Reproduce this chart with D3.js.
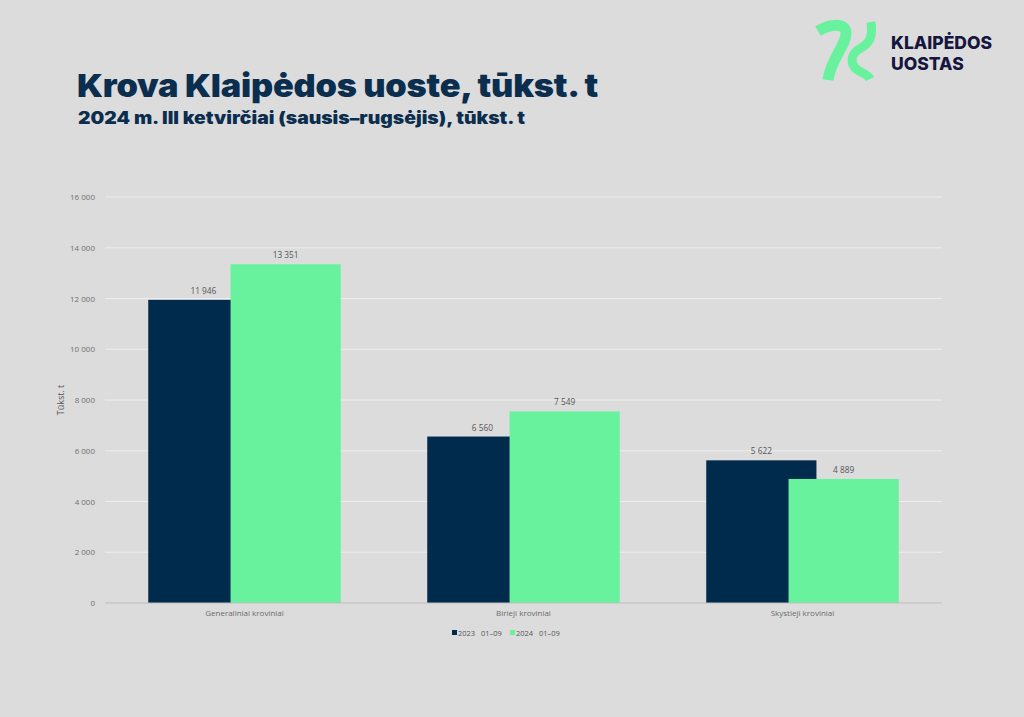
<!DOCTYPE html>
<html>
<head>
<meta charset="utf-8">
<script src="https://cdn.jsdelivr.net/npm/d3@7"></script>
<style>
  html, body { margin: 0; padding: 0; background: #dcdcdc; }
  svg { display: block; }
</style>
</head>
<body>
<script>
// chart data
var categories = ["Generaliniai kroviniai", "Birieji kroviniai", "Skystieji kroviniai"];
var seriesNames = ["2023   01–09", "2024   01–09"];
var values2023 = [11946, 6560, 5622];
var values2024 = [13351, 7549, 4889];
var yTicks = [0, 2000, 4000, 6000, 8000, 10000, 12000, 14000, 16000];

var W = 1024, H = 717;
var colors = ["#012b4d", "#68f29e"];

var svg = d3.select("body").append("svg").attr("width", W).attr("height", H);
svg.append("rect").attr("width", W).attr("height", H).attr("fill", "#dcdcdc");

// titles
svg.append("text").attr("x", 77).attr("y", 97)
    .attr("font-family", "Inter").attr("font-weight", 900).attr("font-size", 32)
    .attr("fill", "#0b2d4e").attr("letter-spacing", -0.2)
    .attr("textLength", 521).attr("lengthAdjust", "spacingAndGlyphs")
    .text("Krova Klaipėdos uoste, tūkst. t");
svg.append("text").attr("x", 78).attr("y", 124)
    .attr("font-family", "Inter").attr("font-weight", 900).attr("font-size", 17)
    .attr("fill", "#0b2d4e")
    .attr("textLength", 447).attr("lengthAdjust", "spacingAndGlyphs")
    .text("2024 m. III ketvirčiai (sausis–rugsėjis), tūkst. t");

// logo
var logo = svg.append("g");
logo.append("path")
    .attr("d", "M818,31 C830,24 846,22 846,33 C846,46 831,58 828,80")
    .attr("fill", "none").attr("stroke", "#68f29e").attr("stroke-width", 11).attr("stroke-linecap", "butt");
logo.append("path")
    .attr("d", "M871,22 C873,36 870,43 861,48 C851,53 850,62 855,68 C860,73 867,73 870,79")
    .attr("fill", "none").attr("stroke", "#68f29e").attr("stroke-width", 9).attr("stroke-linecap", "butt");
logo.append("text").attr("x", 891).attr("y", 49)
    .attr("font-family", "Inter").attr("font-weight", 800).attr("font-size", 17.5)
    .attr("fill", "#17163f").text("KLAIPĖDOS");
logo.append("text").attr("x", 891).attr("y", 70)
    .attr("font-family", "Inter").attr("font-weight", 800).attr("font-size", 17.5)
    .attr("fill", "#17163f").text("UOSTAS");

// plot
var margin = {left: 105, right: 82, top: 197};
var width = W - margin.left - margin.right;
var height = 406;

var g = svg.append("g").attr("transform", "translate(" + margin.left + "," + margin.top + ")");

var yScale = d3.scaleLinear().domain([0, 16000]).range([height, 0]);
var xScale = d3.scaleBand().domain(categories).range([0, width]).paddingInner(0).paddingOuter(0);

var fmt = function (v) { return d3.format(",")(v).replace(/,/g, " "); };

// gridlines
g.selectAll(".grid").data(yTicks.filter(function (d) { return d > 0; }))
    .enter().append("line")
    .attr("x1", 0).attr("x2", width)
    .attr("y1", function (d) { return yScale(d); })
    .attr("y2", function (d) { return yScale(d); })
    .attr("stroke", "#ededed").attr("stroke-width", 1);

// y axis labels
var yAxis = d3.axisLeft(yScale).tickValues(yTicks).tickFormat(fmt).tickSize(0).tickPadding(10);
var ya = g.append("g").call(yAxis);
ya.select(".domain").remove();
ya.selectAll("text").attr("font-family", "Open Sans").attr("font-size", 8).attr("fill", "#707070");

// bars: overlapping clusters
var barW = 0.395 * xScale.bandwidth();
var step = 0.295 * xScale.bandwidth();
var groupStart = (xScale.bandwidth() - (step + barW)) / 2;
var series = [values2023, values2024];

series.forEach(function (vals, si) {
    var bars = g.append("g");
    bars.selectAll("rect").data(vals).enter().append("rect")
        .attr("x", function (d, i) { return xScale(categories[i]) + groupStart + si * step; })
        .attr("y", function (d) { return yScale(d); })
        .attr("width", barW)
        .attr("height", function (d) { return height - yScale(d); })
        .attr("fill", colors[si]);
    bars.selectAll("text").data(vals).enter().append("text")
        .attr("x", function (d, i) { return xScale(categories[i]) + groupStart + si * step + barW / 2; })
        .attr("y", function (d) { return yScale(d) - 6; })
        .attr("text-anchor", "middle")
        .attr("font-family", "Open Sans").attr("font-size", 8.3).attr("fill", "#555")
        .text(fmt);
});

// x axis
g.append("line").attr("x1", 0).attr("x2", width).attr("y1", height).attr("y2", height)
    .attr("stroke", "#bdbdbd").attr("stroke-width", 1);
var xAxis = d3.axisBottom(xScale).tickSize(0).tickPadding(7);
var xa = g.append("g").attr("transform", "translate(0," + height + ")").call(xAxis);
xa.select(".domain").remove();
xa.selectAll("text").attr("font-family", "Open Sans").attr("font-size", 8).attr("fill", "#6b6b6b");

// y title
svg.append("text").attr("transform", "translate(64,400) rotate(-90)")
    .attr("text-anchor", "middle").attr("font-family", "Open Sans").attr("font-size", 9).attr("fill", "#555")
    .text("Tūkst. t");

// legend
var legend = svg.append("g").attr("transform", "translate(452,633)");
var lx = [0, 58];
seriesNames.forEach(function (name, i) {
    legend.append("rect").attr("x", lx[i]).attr("y", -3).attr("width", 5).attr("height", 5).attr("fill", colors[i]);
    legend.append("text").attr("x", lx[i] + 6).attr("y", 2.5)
        .attr("font-family", "Open Sans").attr("font-size", 7.5).attr("fill", "#555")
        .style("white-space", "pre")
        .text(name);
});
</script>
</body>
</html>
